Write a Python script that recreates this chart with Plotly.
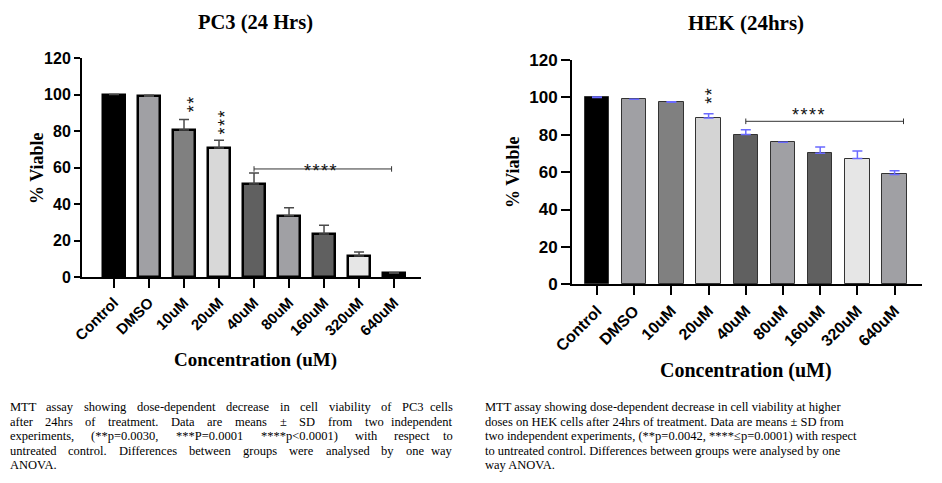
import plotly.graph_objects as go

categories = ["Control", "DMSO", "10uM", "20uM", "40uM", "80uM", "160uM", "320uM", "640uM"]

pc3_values = [100, 99, 80.5, 70.7, 51, 33.5, 23.6, 11.5, 2]
pc3_err_top = [100, 99.6, 86.3, 75, 57, 38, 28.4, 13.7, 2.3]
pc3_colors = ["#000000", "#a0a0a4", "#808080", "#d8d8d8", "#606060", "#a0a0a4", "#606060", "#e6e6e6", "#000000"]

hek_values = [100, 99, 97.4, 89, 80.1, 76, 70.1, 67.3, 58.8]
hek_err_top = [100.2, 99, 97.6, 91.2, 82.7, 76, 73.4, 71.3, 60.8]
hek_colors = ["#000000", "#a0a0a4", "#808080", "#d4d4d4", "#606060", "#a0a0a4", "#606060", "#e6e6e6", "#a0a0a4"]

y_ticks = [0, 20, 40, 60, 80, 100, 120]

caption_left = ["MTT assay showing dose-dependent decrease in cell viability of PC3 cells",
                "after 24hrs of treatment. Data are means \u00b1 SD from two independent",
                "experiments, (**p=0.0030, ***P=0.0001 ****p<0.0001) with respect to",
                "untreated control. Differences between groups were analysed by one way",
                "ANOVA."]
caption_right = ["MTT assay showing dose-dependent decrease in cell viability at higher",
                 "doses on HEK cells after 24hrs of treatment. Data are means \u00b1 SD from",
                 "two independent experiments, (**p=0.0042, ****\u2264p=0.0001) with respect",
                 "to untreated control. Differences between groups were analysed by one",
                 "way ANOVA."]

W, H = 942, 483
xi = list(range(len(categories)))

fig = go.Figure()
fig.add_trace(go.Bar(
    x=xi, y=pc3_values, width=0.62, xaxis="x", yaxis="y",
    marker=dict(color=pc3_colors, line=dict(color="#000000", width=2.5)),
    error_y=dict(type="data", symmetric=False,
                 array=[t - v for t, v in zip(pc3_err_top, pc3_values)],
                 arrayminus=[0] * len(pc3_values),
                 color="#4a4a4a", thickness=1.5, width=5),
    showlegend=False))
fig.add_trace(go.Bar(
    x=xi, y=hek_values, width=0.66, xaxis="x2", yaxis="y2",
    marker=dict(color=hek_colors, line=dict(color="#333333", width=1)),
    error_y=dict(type="data", symmetric=False,
                 array=[t - v for t, v in zip(hek_err_top, hek_values)],
                 arrayminus=[0] * len(hek_values),
                 color="#6a6aff", thickness=1.5, width=5),
    showlegend=False))


def xaxis(domain, rng, anchor, fsize, ticklen):
    return dict(domain=domain, range=rng, anchor=anchor, tickmode="array",
                tickvals=xi, ticktext=categories, tickangle=-45,
                tickfont=dict(family="Liberation Sans, Arial", size=fsize, color="#000", weight="bold"),
                ticks="outside", ticklen=ticklen, tickwidth=2, tickcolor="#000",
                showline=True, linewidth=2, linecolor="#000", showgrid=False, zeroline=False,
                automargin=False, fixedrange=True)


def yaxis(domain, anchor, fsize, ticklen):
    return dict(domain=domain, range=[0, 120], anchor=anchor, tickmode="array",
                tickvals=y_ticks,
                tickfont=dict(family="Liberation Sans, Arial", size=fsize, color="#000", weight="bold"),
                ticks="outside", ticklen=ticklen, tickwidth=2, tickcolor="#000",
                showline=True, linewidth=2, linecolor="#000", showgrid=False, zeroline=False,
                automargin=False, fixedrange=True)


fig.update_layout(
    width=W, height=H, margin=dict(l=0, r=0, t=0, b=0, autoexpand=False),
    paper_bgcolor="white", plot_bgcolor="white",
    xaxis=xaxis([82 / W, 421 / W], [-0.914, 8.77], "y", 15, 9),
    yaxis=yaxis([(H - 277) / H, (H - 58) / H], "x", 16, 6),
    xaxis2=xaxis([572 / W, 922 / W], [-0.672, 8.737], "y2", 16, 9),
    yaxis2=yaxis([(H - 284.3) / H, (H - 60) / H], "x2", 17, 9),
    bargap=0,
)


def pann(text, px, py, size, font, angle=0, xa="center", ya="middle"):
    return dict(text=text, x=px / W, y=1 - py / H, xref="paper", yref="paper",
                xanchor=xa, yanchor=ya, textangle=angle, showarrow=False,
                font=dict(size=size, **font))


serif_bold = dict(family="Liberation Serif, Times New Roman", color="#000", weight="bold")
ann = []
ann.append(pann("PC3 (24 Hrs)", 255, 22, 20.5, serif_bold))
ann.append(pann("HEK (24hrs)", 746, 23, 21, serif_bold))
ann.append(pann("% Viable", 37, 168, 18, serif_bold, angle=-90))
ann.append(pann("% Viable", 513, 172, 18, serif_bold, angle=-90))
ann.append(pann("Concentration (uM)", 255, 360, 19, serif_bold))
ann.append(pann("Concentration (uM)", 746, 370, 20, serif_bold))

HS = "\u200a"
star_font = dict(family="Liberation Sans, Arial", size=18, color="#111")
for text, xx, yy, xr, yr, ang in [(HS.join("**"), 2.27, 94.9, "x", "y", -90),
                                  (HS.join("***"), 3.18, 84.8, "x", "y", -90),
                                  (HS.join("****"), 5.89, 58.2, "x", "y", 0),
                                  (HS.join("**"), 3.07, 101, "x2", "y2", -90),
                                  (HS.join("****"), 5.68, 90.5, "x2", "y2", 0)]:
    ann.append(dict(text=text, x=xx, y=yy, xref=xr, yref=yr, xanchor="center", yanchor="middle",
                    textangle=ang, showarrow=False, font=star_font))

# captions
CAP_SIZE = 12.5
cap_font = dict(family="Liberation Serif, Times New Roman", color="#000")
TNR = {"a": 444, "b": 500, "c": 444, "d": 500, "e": 444, "f": 333, "g": 500, "h": 500, "i": 278,
       "j": 278, "k": 500, "l": 278, "m": 778, "n": 500, "o": 500, "p": 500, "q": 500, "r": 333,
       "s": 389, "t": 278, "u": 500, "v": 500, "w": 722, "x": 500, "y": 500, "z": 444,
       "A": 722, "B": 667, "C": 667, "D": 722, "E": 611, "F": 556, "G": 722, "H": 722, "I": 333,
       "K": 722, "L": 611, "M": 889, "N": 722, "O": 722, "P": 556, "R": 667, "S": 556, "T": 611,
       "U": 722, "V": 722, "W": 944, " ": 250, ".": 250, ",": 250, "-": 333, "(": 333, ")": 333,
       "*": 500, "=": 564, "<": 564, "\u00b1": 564, "\u2264": 549}


def tw(s):
    return sum(TNR.get(c, 500) for c in s) * CAP_SIZE / 1000.0


line_y = [407, 421.5, 436, 450.5, 465]
L0, L1 = 7.5, 455
for i, line in enumerate(caption_left):
    words = line.split(" ")
    if i == len(caption_left) - 1 or len(words) < 2:
        ann.append(pann(line, L0, line_y[i], CAP_SIZE, cap_font, xa="left"))
        continue
    widths = [tw(w) for w in words]
    gap = (L1 - L0 - sum(widths)) / (len(words) - 1)
    xpos = L0
    for j, w in enumerate(words):
        if j == len(words) - 1:
            ann.append(pann(w, L1, line_y[i], CAP_SIZE, cap_font, xa="right"))
        else:
            ann.append(pann(w, xpos, line_y[i], CAP_SIZE, cap_font, xa="left"))
        xpos += widths[j] + gap
for i, line in enumerate(caption_right):
    ann.append(pann(line, 483, line_y[i], CAP_SIZE, cap_font, xa="left"))
fig.update_layout(annotations=ann)

shapes = []
for xr, yr, x0, x1, yv, tick in [("x", "y", 4.0, 7.93, 59.2, 1.5), ("x2", "y2", 4.0, 8.24, 87.2, 1.5)]:
    shapes.append(dict(type="line", xref=xr, yref=yr, x0=x0, x1=x1, y0=yv, y1=yv,
                       line=dict(color="#333", width=1)))
    for xx in (x0, x1):
        shapes.append(dict(type="line", xref=xr, yref=yr, x0=xx, x1=xx, y0=yv - tick, y1=yv + tick,
                           line=dict(color="#333", width=1)))
fig.update_layout(shapes=shapes)

fig.write_html("out.html", config={"displayModeBar": False},
               post_script="document.body.style.margin='0';")
